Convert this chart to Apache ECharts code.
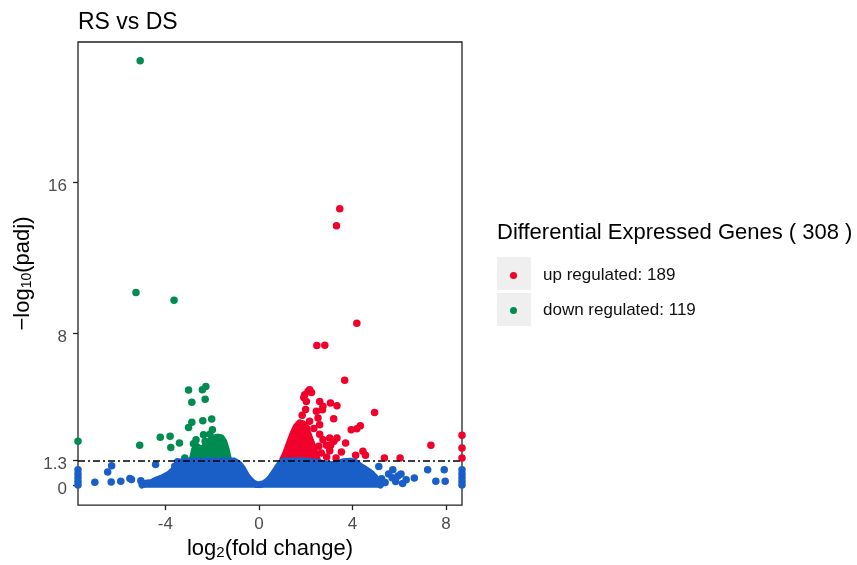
<!DOCTYPE html>
<html>
<head>
<meta charset="utf-8">
<script src="https://cdn.jsdelivr.net/npm/echarts@6/dist/echarts.min.js"></script>
<style>
html, body { margin: 0; padding: 0; background: #fff; }
#chart { width: 857px; height: 565px; }
</style>
</head>
<body>
<div id="chart"></div>
<script>
// Volcano plot data: [log2FC, -log10(padj)]
const upCount = 189;
const downCount = 119;
const padjCut = 1.3;
const xTicks = [-4, 0, 4, 8];
const yTicks = [0, 1.3, 8, 16];

// isolated up-regulated genes
const upPoints = [
    [3.46, 14.6], [3.32, 13.7], [4.19, 8.55], [2.48, 7.38], [2.82, 7.39], [3.67, 5.54],
    [2.17, 5.04], [2.1, 4.95], [2.25, 4.9], [1.96, 4.78], [1.92, 4.64], [2.03, 4.43],
    [2.0, 4.0], [1.85, 3.7], [2.6, 4.43], [3.06, 4.34], [3.34, 4.2], [2.74, 4.17],
    [2.46, 3.91], [2.72, 3.99], [4.95, 3.85], [3.2, 3.52], [2.53, 3.55], [2.6, 3.2],
    [2.17, 3.38], [2.03, 3.03], [2.35, 3.0], [2.6, 2.7], [3.95, 2.94], [4.19, 2.99],
    [4.34, 3.15], [2.74, 2.41], [3.03, 2.5], [3.34, 2.5], [3.21, 2.33], [3.71, 2.24],
    [2.56, 2.06], [2.89, 2.12], [3.07, 2.12], [3.03, 1.83], [2.67, 1.71], [3.53, 1.76],
    [4.45, 1.8], [4.14, 1.59], [4.56, 1.59], [2.9, 1.5], [3.3, 1.45], [5.37, 1.45],
    [6.04, 1.45], [7.36, 2.12], [8.69, 2.64], [8.69, 1.97], [8.69, 1.45]
];
// isolated down-regulated genes
const downPoints = [
    [-5.08, 22.4], [-5.26, 10.18], [-3.63, 9.76], [-7.74, 2.33], [-5.1, 2.12],
    [-4.22, 2.54], [-3.8, 2.59], [-3.77, 2.0], [-3.4, 2.23], [-3.01, 5.03],
    [-2.42, 5.04], [-2.27, 5.22], [-2.87, 4.38], [-2.3, 4.55], [-2.02, 3.5],
    [-2.4, 3.41], [-2.87, 3.33], [-3.01, 3.06], [-1.99, 2.94], [-2.37, 2.67],
    [-2.69, 2.41], [-2.3, 2.33], [-3.17, 1.45], [-2.8, 2.2], [-2.1, 2.7]
];
// non-significant genes outside the dense cloud
const nsPoints = [
    [-7.02, 0.17], [-6.47, 0.71], [-6.3, 1.04], [-6.32, 0.18], [-5.91, 0.22],
    [-5.52, 0.36], [-5.45, 0.31], [-5.05, 0.25], [-4.42, 1.1], [-3.6, 1.01],
    [-3.48, 1.25], [-3.57, 0.57], [-7.74, 0.82], [-7.74, 0.6], [-7.74, 0.4],
    [-7.74, 0.2], [-7.74, 0.02],
    [5.13, 0.99], [4.8, 0.6], [4.9, 0.35], [5.05, 0.15], [5.25, 0.35], [5.4, 0.15],
    [5.55, 0.6], [5.7, 0.4], [5.73, 0.83], [5.85, 0.2], [5.95, 0.5], [6.08, 0.6],
    [6.15, 0.1], [6.3, 0.3], [6.65, 0.39], [7.22, 0.83], [7.57, 0.22], [7.97, 0.22],
    [7.93, 0.83], [8.69, 0.82], [8.69, 0.6], [8.69, 0.4], [8.69, 0.2], [8.69, 0.02]
];
// upper edges of the dense point clouds
const upCloud = [
    [1.02, 1.35], [1.15, 1.7], [1.3, 2.2], [1.45, 2.7], [1.6, 3.1], [1.75, 3.3],
    [1.9, 3.25], [2.05, 2.9], [2.2, 2.4], [2.35, 1.9], [2.5, 1.35]
];
const downCloud = [
    [-2.85, 1.35], [-2.75, 1.9], [-2.65, 2.05], [-2.5, 1.9], [-2.35, 2.0], [-2.2, 2.2],
    [-2.05, 2.4], [-1.9, 2.5], [-1.75, 2.55], [-1.6, 2.5], [-1.5, 2.3], [-1.4, 1.9], [-1.3, 1.35]
];
const nsCloud = [
    [-5.0, 0.02], [-4.85, 0.12], [-4.6, 0.15], [-4.35, 0.3], [-4.1, 0.42], [-3.85, 0.58],
    [-3.65, 0.8], [-3.45, 1.05], [-3.3, 1.25], [-3.0, 1.28], [-2.5, 1.28], [-2.0, 1.28],
    [-1.5, 1.28], [-1.05, 1.28], [-0.85, 1.12], [-0.7, 0.88], [-0.55, 0.55], [-0.4, 0.3],
    [-0.25, 0.13], [-0.1, 0.05], [0.05, 0.04], [0.2, 0.09], [0.35, 0.2], [0.5, 0.4],
    [0.65, 0.66], [0.8, 0.95], [0.95, 1.2], [1.05, 1.28], [1.5, 1.28], [2.0, 1.28],
    [2.5, 1.22], [2.9, 1.12], [3.3, 1.1], [3.6, 1.25], [3.9, 1.28], [4.15, 1.2],
    [4.35, 1.0], [4.55, 0.85], [4.75, 0.68], [4.95, 0.45], [5.1, 0.2], [5.2, 0.02]
];

const RED = '#f0002a';
const GREEN = '#008c50';
const BLUE = '#1a5fc8';
const FONT = '"Liberation Sans", Arial, sans-serif';
const upName = 'up regulated: ' + upCount;
const downName = 'down regulated: ' + downCount;

function cloud(name, data, color, origin) {
    return {
        type: 'line', name, data, symbol: 'none', silent: true,
        lineStyle: {color, width: 7, cap: 'round', join: 'round'},
        areaStyle: {color, opacity: 1, origin}
    };
}

function dots(name, data, color) {
    return {
        type: 'scatter', name, data, symbolSize: 7.5, silent: true,
        itemStyle: {color, opacity: 1}
    };
}

const chart = echarts.init(document.getElementById('chart'));
chart.setOption({
    animation: false,
    textStyle: {fontFamily: FONT},
    title: [
        {text: 'RS vs DS', left: 78, top: 11, padding: 0,
            textStyle: {fontSize: 23, fontWeight: 'normal', color: '#000'}},
        {text: 'Differential Expressed Genes ( ' + (upCount + downCount) + ' )', left: 497, top: 222, padding: 0,
            textStyle: {fontSize: 22, fontWeight: 'normal', color: '#000'}}
    ],
    graphic: [
        {type: 'rect', left: 497, top: 257, z: 0, shape: {width: 34, height: 33}, style: {fill: '#efefef'}},
        {type: 'rect', left: 497, top: 293, z: 0, shape: {width: 34, height: 33}, style: {fill: '#efefef'}}
    ],
    legend: {
        data: [upName, downName],
        orient: 'vertical', left: 510, top: 267, padding: 0, z: 5,
        icon: 'circle', itemWidth: 7, itemHeight: 7, itemGap: 18,
        selectedMode: false,
        formatter: name => '{g| }' + name,
        textStyle: {fontSize: 17, color: '#111', rich: {g: {width: 21}}}
    },
    grid: {
        left: 78, top: 42, right: 395, bottom: 58,
        show: true, borderColor: '#222', borderWidth: 1.3
    },
    xAxis: {
        type: 'value', min: -7.74, max: 8.69,
        name: 'log{s|2}(fold change)', nameLocation: 'middle', nameGap: 32,
        nameTextStyle: {fontSize: 22, color: '#000', rich: {s: {fontSize: 15, verticalAlign: 'bottom'}}},
        axisLine: {show: false, onZero: false},
        splitLine: {show: false},
        axisTick: {show: true, length: 5, customValues: xTicks, lineStyle: {color: '#222', width: 1.3}},
        axisLabel: {customValues: xTicks, fontSize: 17, color: '#4d4d4d', margin: 11}
    },
    yAxis: {
        type: 'value', min: -1.04, max: 23.39,
        name: '\u2212log{s|10}(padj)', nameLocation: 'middle', nameRotate: 90, nameGap: 44,
        nameTextStyle: {fontSize: 22, color: '#000', rich: {s: {fontSize: 14, verticalAlign: 'bottom'}}},
        axisLine: {show: false, onZero: false},
        splitLine: {show: false},
        axisTick: {show: true, length: 5, customValues: yTicks, lineStyle: {color: '#222', width: 1.3}},
        axisLabel: {customValues: yTicks, fontSize: 17, color: '#4d4d4d', margin: 11, lineHeight: 8, verticalAlign: 'top'}
    },
    series: [
        cloud('upCloud', upCloud, RED, padjCut),
        cloud('downCloud', downCloud, GREEN, padjCut),
        cloud('nsCloud', nsCloud, BLUE, -0.13),
        dots('not significant', nsPoints, BLUE),
        dots(upName, upPoints, RED),
        Object.assign(dots(downName, downPoints, GREEN), {
            markLine: {
                silent: true, symbol: 'none', label: {show: false},
                lineStyle: {color: '#000', type: [7, 3, 2, 3], width: 1.5},
                data: [{yAxis: padjCut}]
            }
        })
    ]
});
</script>
</body>
</html>
